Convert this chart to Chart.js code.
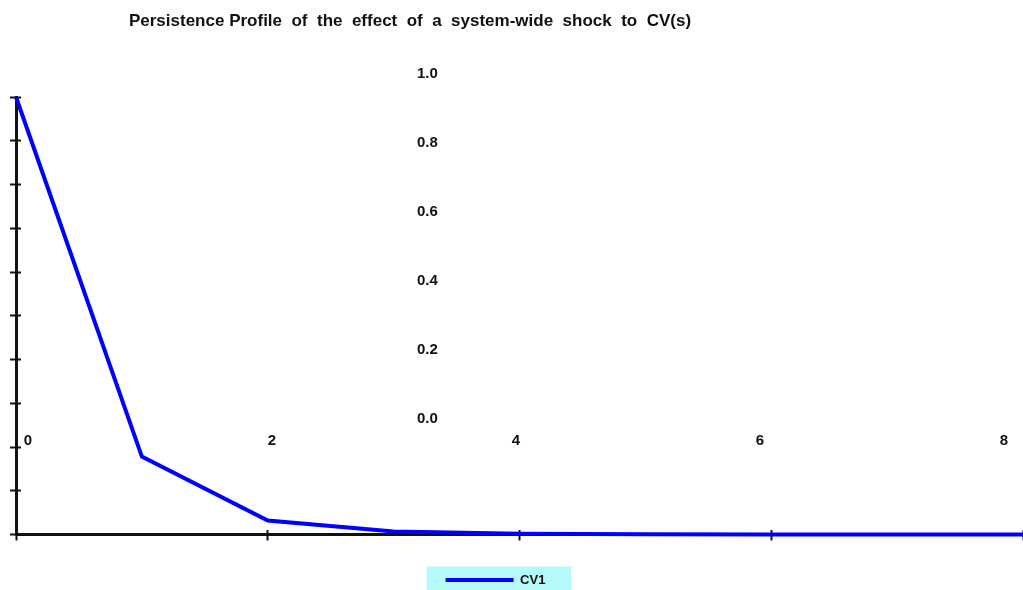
<!DOCTYPE html>
<html>
<head>
<meta charset="utf-8">
<script src="https://cdn.jsdelivr.net/npm/chart.js@4.4.0/dist/chart.umd.min.js"></script>
<style>
  html, body { margin: 0; padding: 0; background: #fff; }
  #wrap { position: relative; width: 1023px; height: 590px; }
  #wrap canvas { position: absolute; left: 0; top: 0; }
  #labels { pointer-events: none; }
</style>
</head>
<body>
<div id="wrap">
  <canvas id="plot" width="1023" height="590"></canvas>
  <canvas id="labels" width="1023" height="590"></canvas>
</div>
<script>
const $ = (id) => document.getElementById(id);

// periods after the shock, and the CV1 profile
const horizon = [0, 1, 2, 3, 4, 5, 6, 7, 8];
const cv1 = [1.0, 0.178, 0.032, 0.007, 0.0015, 0.0004, 0.0001, 0, 0];
const seriesName = 'CV1';

// tick marks on the axes, and the tick labels that float inside the plot
const xTickMarks = [0, 2, 4, 6, 8];
const yTickMarks = [0, 0.1, 0.2, 0.3, 0.4, 0.5, 0.6, 0.7, 0.8, 0.9, 1.0];
const xTickLabels = [0, 2, 4, 6, 8];
const yTickLabels = [0, 0.2, 0.4, 0.6, 0.8, 1.0];

const titleText = 'Persistence Profile  of  the  effect  of  a  system-wide  shock  to  CV(s)';

const FONT = '"Liberation Sans", Arial, sans-serif';
const INK = '#111';
const BLUE = '#0000ff';

const setTicks = (vals) => (s) => { s.ticks = vals.map(v => ({ value: v })); };
const tickGrid = (len) => ({ display: true, drawOnChartArea: false, drawTicks: true,
  tickLength: len, tickWidth: 2, tickColor: INK });
const noGrid = { display: false, drawTicks: false };

// cyan box behind the legend entry
const legendBackdrop = {
  id: 'legendBackdrop',
  beforeDraw(chart){
    const hb = chart.legend && chart.legend.legendHitBoxes && chart.legend.legendHitBoxes[0];
    if(!hb) return;
    const ctx = chart.ctx;
    ctx.save();
    ctx.fillStyle = '#b5f9f9';
    ctx.fillRect(hb.left - 19, hb.top - 7, hb.width + 45, chart.height - hb.top + 7);
    ctx.restore();
  }
};

// the plot: line, axes and tick marks (marks cross the axis, so each axis has an inner twin)
new Chart($('plot'), {
  type: 'line',
  data: {
    datasets: [{
      label: seriesName,
      data: horizon.map((h, i) => ({ x: h, y: cv1[i] })),
      xAxisID: 'x', yAxisID: 'y',
      borderColor: BLUE, backgroundColor: BLUE, borderWidth: 4,
      pointRadius: 0, tension: 0, fill: false, clip: false
    }]
  },
  options: {
    responsive: false, animation: false, events: [],
    layout: { autoPadding: false, padding: { left: -33, right: -1, top: 97, bottom: -6.5 } },
    plugins: {
      tooltip: { enabled: false },
      legend: {
        position: 'bottom', align: 'center',
        labels: { usePointStyle: true, pointStyle: 'line', pointStyleWidth: 68, padding: 5,
          color: INK, font: { family: FONT, size: 13, weight: 'bold' } }
      }
    },
    scales: {
      x: { type: 'linear', min: 0, max: 8, position: 'bottom', z: 1,
        afterBuildTicks: setTicks(xTickMarks), ticks: { display: false },
        grid: tickGrid(6), border: { display: true, color: INK, width: 3 },
        afterFit: (s) => { s.height = 34; } },
      xIn: { axis: 'x', type: 'linear', min: 0, max: 8, position: { y: 0 }, z: 1,
        afterBuildTicks: setTicks(xTickMarks), ticks: { display: false },
        grid: tickGrid(-5), border: { display: false } },
      y: { type: 'linear', min: 0, max: 1, position: 'left', z: 1,
        afterBuildTicks: setTicks(yTickMarks), ticks: { display: false },
        grid: tickGrid(6), border: { display: true, color: INK, width: 3 },
        afterFit: (s) => { s.width = 49; } },
      yIn: { axis: 'y', type: 'linear', min: 0, max: 1, position: { x: 0 }, z: 1,
        afterBuildTicks: setTicks(yTickMarks), ticks: { display: false },
        grid: tickGrid(-5), border: { display: false } }
    }
  },
  plugins: [legendBackdrop]
});

// the title and the tick labels, which sit apart from the axes in the original
new Chart($('labels'), {
  type: 'line',
  data: { datasets: [] },
  options: {
    responsive: false, animation: false, events: [],
    layout: { autoPadding: false, padding: { left: -184, right: 19, top: 0, bottom: 131.3 } },
    plugins: {
      legend: { display: false }, tooltip: { enabled: false },
      title: { display: true, text: titleText, color: INK,
        font: { family: FONT, size: 17, weight: 'bold' }, padding: { top: 11.5, bottom: 41.8 } }
    },
    scales: {
      x: { type: 'linear', min: 0, max: 8, position: 'bottom',
        afterBuildTicks: setTicks(xTickLabels),
        grid: noGrid, border: { display: false },
        ticks: { color: INK, font: { family: FONT, size: 15, weight: 'bold' }, padding: 12.8,
          maxRotation: 0, autoSkip: false },
        afterFit: (s) => { s.height = 40; } },
      y: { type: 'linear', min: 0, max: 1, position: 'left',
        afterBuildTicks: setTicks(yTickLabels),
        grid: noGrid, border: { display: false },
        ticks: { mirror: true, padding: 389, color: INK, autoSkip: false,
          font: { family: FONT, size: 15, weight: 'bold' }, callback: (v) => Number(v).toFixed(1) },
        afterFit: (s) => { s.width = 212; s.paddingTop = 0; s.paddingBottom = 0; } }
    }
  }
});
</script>
</body>
</html>
